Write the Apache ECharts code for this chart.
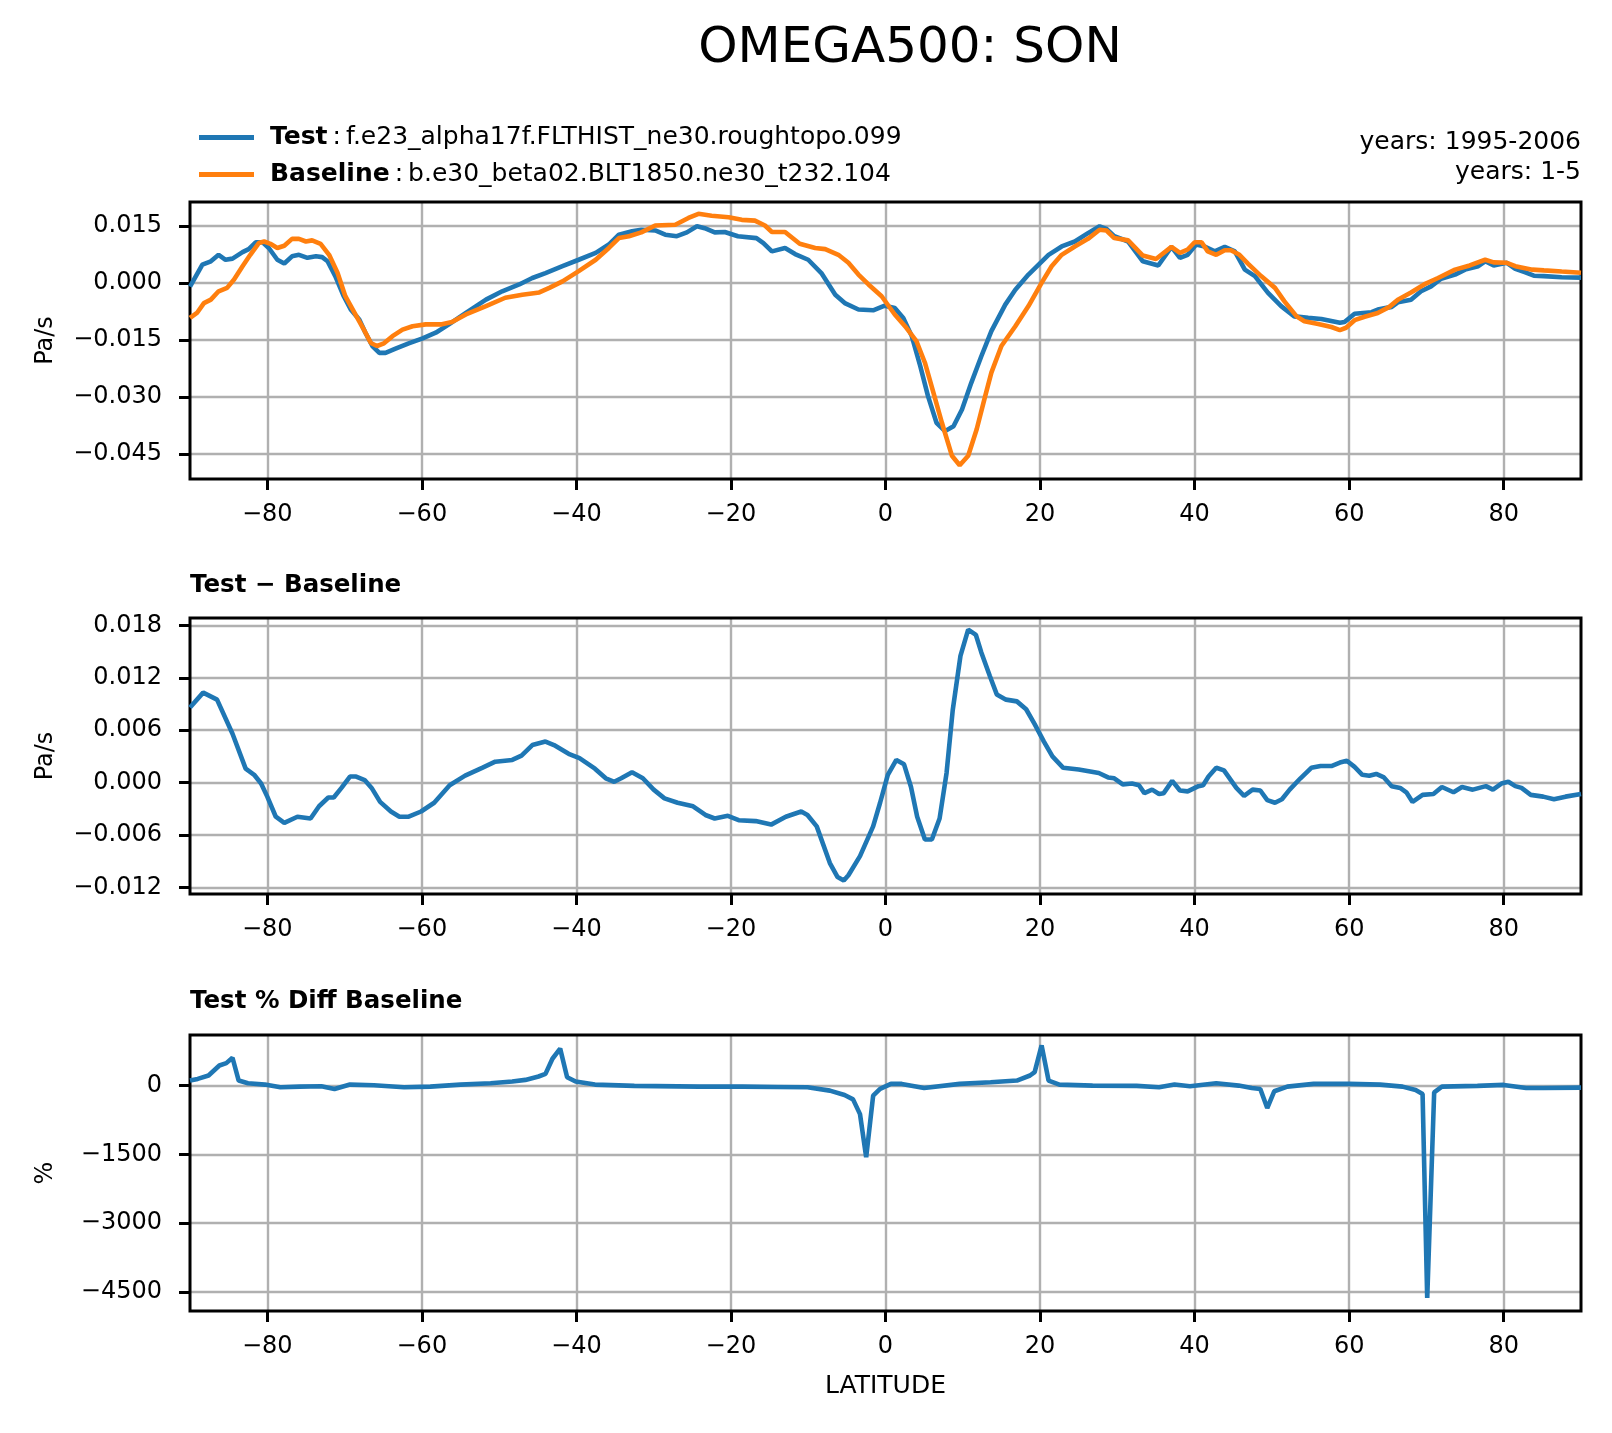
<!DOCTYPE html>
<html>
<head>
<meta charset="utf-8">
<title>OMEGA500: SON</title>
<script src="https://cdn.jsdelivr.net/npm/echarts@6/dist/echarts.min.js"></script>
<style>
  html, body { margin: 0; padding: 0; background: #fff; }
  #main { width: 1612px; height: 1433px; }
</style>
</head>
<body>
<div id="main"></div>
<script>
// tick positions
var latTicks = [-80, -60, -40, -20, 0, 20, 40, 60, 80];
var omegaTicks = [-0.045, -0.030, -0.015, 0.000, 0.015];
var diffTicks = [-0.012, -0.006, 0.000, 0.006, 0.012, 0.018];
var pctTicks = [-4500, -3000, -1500, 0];

// Test (f.e23_alpha17f...) OMEGA500, Pa/s
var testLat = [-90, -88.4, -87.3, -86.3, -85.4, -84.5, -83.2, -82.4, -81.5, -80.6, -79.8, -78.7, -77.8, -76.8, -75.9,
    -74.8, -73.7, -72.9, -72.2, -71.2, -70.1, -69.2, -68.1, -67.3, -66.4, -65.5, -64.7, -63.4, -61.7, -59.9, -58.2,
    -56.5, -54.3, -51.7, -49.6, -47.4, -45.7, -44.0, -41.8, -39.7, -37.5, -35.8, -34.5, -32.8, -31.6, -29.8, -28.5,
    -27.0, -25.7, -24.4, -23.4, -22.1, -20.8, -19.1, -16.7, -15.8, -14.7, -13.0, -11.7, -10.0, -8.3, -6.5, -5.2,
    -3.5, -1.6, -0.1, 1.2, 2.3, 3.4, 4.5, 5.5, 6.6, 7.7, 8.8, 9.9, 11.1, 12.4, 13.7, 15.5, 16.8, 18.5, 21.1, 22.8,
    24.5, 26.2, 27.7, 28.6, 29.6, 31.4, 33.3, 35.3, 37.0, 38.1, 39.1, 40.2, 41.3, 42.6, 43.9, 45.2, 46.5, 47.8,
    49.5, 51.2, 52.9, 54.7, 56.4, 58.8, 59.4, 60.7, 62.9, 63.7, 65.5, 66.3, 68.0, 69.3, 70.6, 71.9, 73.7, 75.0,
    76.7, 77.6, 78.7, 80.4, 81.5, 82.8, 83.9, 85.2, 87.5, 90];
var testOmega = [-0.0010, 0.0048, 0.0057, 0.0074, 0.0061, 0.0064, 0.0081, 0.0089, 0.0107, 0.0107, 0.0092, 0.0061,
    0.0051, 0.0070, 0.0074, 0.0066, 0.0070, 0.0068, 0.0057, 0.0018, -0.0035, -0.0070, -0.0096, -0.0131, -0.0166,
    -0.0184, -0.0184, -0.0173, -0.0159, -0.0146, -0.0131, -0.0109, -0.0079, -0.0044, -0.0022, -0.0004, 0.0013,
    0.0026, 0.0044, 0.0061, 0.0079, 0.0101, 0.0127, 0.0136, 0.0140, 0.0138, 0.0127, 0.0123, 0.0133, 0.0149, 0.0144,
    0.0133, 0.0134, 0.0123, 0.0118, 0.0105, 0.0083, 0.0092, 0.0076, 0.0061, 0.0026, -0.0031, -0.0054, -0.0070,
    -0.0072, -0.0060, -0.0066, -0.0092, -0.0140, -0.0219, -0.0298, -0.0368, -0.0390, -0.0377, -0.0333, -0.0263,
    -0.0193, -0.0127, -0.0057, -0.0018, 0.0022, 0.0074, 0.0096, 0.0109, 0.0131, 0.0149, 0.0142, 0.0123, 0.0109,
    0.0057, 0.0046, 0.0095, 0.0066, 0.0074, 0.0101, 0.0096, 0.0083, 0.0095, 0.0083, 0.0035, 0.0018, -0.0026,
    -0.0061, -0.0088, -0.0092, -0.0095, -0.0105, -0.0103, -0.0081, -0.0077, -0.0070, -0.0063, -0.0051, -0.0044,
    -0.0022, -0.0009, 0.0011, 0.0022, 0.0035, 0.0044, 0.0057, 0.0046, 0.0053, 0.0037, 0.0028, 0.0019, 0.0018,
    0.0015, 0.0014];

// Baseline (b.e30_beta02...) OMEGA500, Pa/s
var baseLat = [-90, -89.1, -88.2, -87.3, -86.3, -85.2, -84.3, -83.2, -82.2, -81.1, -80.4, -79.6, -78.7, -77.8, -76.8,
    -75.9, -75.0, -74.2, -73.1, -72.0, -70.9, -69.9, -68.6, -67.5, -66.6, -65.8, -64.9, -63.8, -62.5, -61.2, -59.5,
    -57.4, -56.1, -54.3, -51.7, -49.2, -47.0, -44.8, -43.5, -41.8, -39.7, -37.5, -35.8, -34.5, -33.2, -31.6, -29.8,
    -27.2, -25.5, -24.2, -22.5, -20.3, -18.6, -16.9, -15.6, -14.7, -13.0, -11.1, -9.1, -7.8, -6.1, -4.8, -3.5,
    -2.2, -0.5, 1.2, 2.7, 4.0, 5.1, 6.2, 7.3, 8.6, 9.6, 10.7, 11.8, 12.9, 13.7, 15.0, 16.8, 18.5, 20.2, 21.5, 22.8,
    24.5, 26.2, 27.7, 28.6, 29.6, 31.4, 33.3, 35.0, 37.0, 38.1, 39.1, 40.0, 40.9, 41.7, 42.8, 43.9, 44.7, 45.8,
    46.9, 48.6, 50.4, 51.6, 53.2, 54.2, 56.0, 57.7, 58.8, 59.6, 60.7, 62.0, 63.7, 65.2, 66.3, 68.0, 69.7, 71.5,
    73.7, 75.6, 77.6, 78.7, 80.4, 81.5, 83.7, 85.2, 87.5, 90];
var baseOmega = [-0.0092, -0.0079, -0.0053, -0.0044, -0.0022, -0.0013, 0.0009, 0.0044, 0.0074, 0.0105, 0.0109,
    0.0103, 0.0092, 0.0098, 0.0116, 0.0116, 0.0109, 0.0112, 0.0103, 0.0074, 0.0026, -0.0035, -0.0083, -0.0123,
    -0.0158, -0.0166, -0.0159, -0.0140, -0.0123, -0.0114, -0.0109, -0.0109, -0.0103, -0.0083, -0.0061, -0.0039,
    -0.0031, -0.0025, -0.0013, 0.0004, 0.0031, 0.0061, 0.0092, 0.0118, 0.0123, 0.0133, 0.0151, 0.0153, 0.0171,
    0.0182, 0.0177, 0.0173, 0.0166, 0.0164, 0.0151, 0.0134, 0.0134, 0.0103, 0.0092, 0.0089, 0.0074, 0.0053, 0.0022,
    -0.0004, -0.0035, -0.0083, -0.0118, -0.0153, -0.0210, -0.0289, -0.0368, -0.0455, -0.0480, -0.0455, -0.0385,
    -0.0298, -0.0236, -0.0166, -0.0114, -0.0061, 0.0000, 0.0044, 0.0074, 0.0096, 0.0116, 0.0140, 0.0138, 0.0118,
    0.0112, 0.0072, 0.0063, 0.0095, 0.0079, 0.0088, 0.0107, 0.0107, 0.0083, 0.0074, 0.0086, 0.0086, 0.0074, 0.0051,
    0.0018, -0.0013, -0.0048, -0.0088, -0.0101, -0.0108, -0.0116, -0.0124, -0.0118, -0.0098, -0.0089, -0.0079,
    -0.0063, -0.0044, -0.0025, -0.0004, 0.0013, 0.0035, 0.0046, 0.0061, 0.0054, 0.0053, 0.0044, 0.0035, 0.0033,
    0.0030, 0.0027];

// Test - Baseline, Pa/s
var diffLat = [-90, -88.3, -86.5, -84.5, -82.8, -81.7, -80.8, -80.0, -78.9, -77.8, -76.1, -74.4, -73.3, -72.1, -71.4,
    -70.4, -69.3, -68.5, -67.4, -66.5, -65.4, -64.0, -62.9, -61.7, -60.1, -58.4, -56.4, -54.4, -52.2, -50.5, -48.3,
    -47.1, -45.7, -44.0, -42.9, -41.0, -39.6, -37.6, -36.2, -35.1, -34.2, -32.8, -31.4, -30.0, -28.6, -26.9, -24.9,
    -23.3, -22.1, -20.4, -19.0, -16.8, -14.8, -12.9, -10.9, -10.1, -8.9, -7.2, -6.2, -5.4, -4.8, -3.3, -1.6, -0.7,
    0.3, 1.4, 2.4, 3.3, 4.1, 5.1, 6.0, 7.0, 7.9, 8.7, 9.7, 10.7, 11.7, 12.4, 13.5, 14.4, 15.6, 17.0, 18.2, 19.3,
    20.5, 21.6, 23.0, 25.0, 27.6, 28.8, 29.6, 30.7, 31.9, 32.8, 33.5, 34.5, 35.4, 36.0, 37.1, 38.1, 39.1, 40.5,
    41.1, 41.8, 42.8, 43.8, 45.4, 46.4, 47.5, 48.5, 49.4, 50.4, 51.3, 52.3, 53.7, 55.1, 56.3, 57.7, 58.8, 59.7,
    60.7, 61.7, 62.6, 63.5, 64.5, 65.5, 66.6, 67.4, 68.2, 69.5, 70.9, 72.0, 73.5, 74.6, 76.0, 77.7, 78.6, 79.7,
    80.6, 81.5, 82.3, 83.5, 85.1, 86.5, 88.0, 90];
var diffOmega = [0.0086, 0.0103, 0.0095, 0.0056, 0.0016, 0.0009, -0.0001, -0.0016, -0.0039, -0.0046, -0.0039,
    -0.0041, -0.0027, -0.0017, -0.0017, -0.0006, 0.0007, 0.0007, 0.0003, -0.0006, -0.0022, -0.0033, -0.0039,
    -0.0039, -0.0033, -0.0023, -0.0003, 0.0008, 0.0017, 0.0024, 0.0026, 0.0031, 0.0043, 0.0047, 0.0043, 0.0033,
    0.0028, 0.0016, 0.0005, 0.0001, 0.0005, 0.0012, 0.0005, -0.0008, -0.0018, -0.0023, -0.0027, -0.0037, -0.0041,
    -0.0038, -0.0043, -0.0044, -0.0048, -0.0039, -0.0033, -0.0037, -0.0050, -0.0092, -0.0108, -0.0112, -0.0106,
    -0.0084, -0.0050, -0.0023, 0.0009, 0.0026, 0.0021, -0.0005, -0.0039, -0.0065, -0.0065, -0.0041, 0.0011,
    0.0083, 0.0145, 0.0175, 0.0169, 0.0149, 0.0122, 0.0101, 0.0095, 0.0093, 0.0084, 0.0067, 0.0047, 0.0030,
    0.0017, 0.0015, 0.0011, 0.0006, 0.0005, -0.0002, -0.0001, -0.0003, -0.0012, -0.0008, -0.0013, -0.0012,
    0.0002, -0.0009, -0.0010, -0.0004, -0.0003, 0.0007, 0.0017, 0.0014, -0.0006, -0.0015, -0.0008, -0.0009,
    -0.0020, -0.0023, -0.0019, -0.0008, 0.0005, 0.0017, 0.0019, 0.0019, 0.0023, 0.0025, 0.0018, 0.0009, 0.0008,
    0.0010, 0.0006, -0.0004, -0.0006, -0.0011, -0.0022, -0.0014, -0.0013, -0.0005, -0.0011, -0.0005, -0.0008,
    -0.0004, -0.0008, -0.0001, 0.0001, -0.0004, -0.0006, -0.0014, -0.0016, -0.0019, -0.0016, -0.0013];

// Test % Diff Baseline
var pctLat = [-90, -89.0, -87.6, -86.2, -85.3, -84.5, -83.7, -82.5, -80.3, -78.3, -75.8, -73.0, -71.3, -69.3, -66.2,
    -62.3, -58.9, -55.0, -51.1, -48.3, -46.6, -44.9, -44.0, -43.1, -42.1, -41.2, -40.1, -37.6, -32.5, -24.1, -18.5,
    -14.0, -10.1, -7.2, -5.3, -4.2, -3.3, -2.5, -1.6, -0.7, 0.7, 2.1, 5.0, 9.6, 13.6, 17.0, 18.7, 19.3, 20.2, 21.1,
    22.5, 26.8, 32.5, 35.4, 37.4, 39.4, 42.8, 45.7, 47.4, 48.5, 49.4, 50.3, 52.0, 55.4, 60.0, 64.0, 66.9, 68.6,
    69.5, 70.1, 71.0, 72.0, 76.6, 80.0, 82.9, 85.1, 90];
var pctDiff = [110, 146, 220, 439, 490, 607, 110, 51, 22, -37, -22, -15, -73, 22, 7, -37, -22, 22, 51, 88, 124, 198,
    256, 585, 805, 183, 88, 22, -7, -22, -22, -29, -37, -110, -205, -300, -622, -1560, -220, -73, 37, 37, -51, 37,
    73, 110, 220, 293, 878, 110, 22, 0, -7, -37, 22, -15, 51, 0, -51, -73, -490, -124, -22, 37, 37, 22, -22, -95,
    -183, -4630, -146, -22, -7, 15, -51, -51, -45];

var FONT = 'DejaVu Sans';
var BLUE = '#1f77b4';
var ORANGE = '#ff7f0e';

function zip(xs, ys) {
    return xs.map(function (x, i) { return [x, ys[i]]; });
}

function minusSign(s) {
    return String(s).replace('-', '\u2212');
}

function xAxisFor(idx, name) {
    return {
        type: 'value',
        gridIndex: idx,
        position: 'bottom',
        min: -90,
        max: 90,
        name: name || '',
        nameLocation: 'middle',
        nameGap: 63,
        nameTextStyle: { fontFamily: FONT, fontSize: 25, color: '#000' },
        axisLine: { show: false, onZero: false },
        axisTick: { show: true, inside: false, length: 11, customValues: latTicks, lineStyle: { color: '#000', width: 3 } },
        axisLabel: {
            customValues: latTicks, margin: 24, color: '#000', fontFamily: FONT, fontSize: 24,
            formatter: function (v) { return minusSign(v); }
        },
        splitLine: { show: true, lineStyle: { color: '#b0b0b0', width: 2.4 } }
    };
}

function yAxisFor(idx, name, lo, hi, ticks, digits) {
    return {
        type: 'value',
        gridIndex: idx,
        position: 'left',
        min: lo,
        max: hi,
        name: name,
        nameLocation: 'middle',
        nameRotate: 90,
        nameGap: 132,
        nameTextStyle: { fontFamily: FONT, fontSize: 24, color: '#000' },
        axisLine: { show: false, onZero: false },
        axisTick: { show: true, inside: false, length: 11, customValues: ticks, lineStyle: { color: '#000', width: 3 } },
        axisLabel: {
            customValues: ticks, margin: 28, color: '#000', fontFamily: FONT, fontSize: 24,
            formatter: function (v) { return minusSign(v.toFixed(digits)); }
        },
        splitLine: { show: true, lineStyle: { color: '#b0b0b0', width: 2.4 } }
    };
}

function lineSeries(name, idx, data, color, z) {
    return {
        name: name,
        type: 'line',
        xAxisIndex: idx,
        yAxisIndex: idx,
        data: data,
        showSymbol: false,
        symbol: 'none',
        z: z,
        lineStyle: { color: color, width: 4.6 },
        itemStyle: { color: color }
    };
}

var chart = echarts.init(document.getElementById('main'), null, { renderer: 'canvas' });

var option = {
    animation: false,
    backgroundColor: '#fff',
    textStyle: { fontFamily: FONT },
    grid: [
        { left: 190, top: 202, width: 1391, height: 277, show: true, borderColor: '#000', borderWidth: 3, backgroundColor: 'transparent', z: 3 },
        { left: 190, top: 618, width: 1391, height: 276, show: true, borderColor: '#000', borderWidth: 3, backgroundColor: 'transparent', z: 3 },
        { left: 190, top: 1035, width: 1391, height: 276, show: true, borderColor: '#000', borderWidth: 3, backgroundColor: 'transparent', z: 3 }
    ],
    xAxis: [xAxisFor(0), xAxisFor(1), xAxisFor(2, 'LATITUDE')],
    yAxis: [
        yAxisFor(0, 'Pa/s', -0.0516, 0.0213, omegaTicks, 3),
        yAxisFor(1, 'Pa/s', -0.01274, 0.01884, diffTicks, 3),
        yAxisFor(2, '%', -4914, 1103, pctTicks, 0)
    ],
    legend: {
        data: ['Test', 'Baseline'],
        orient: 'vertical',
        left: 194,
        top: 120,
        itemWidth: 55,
        itemHeight: 5,
        itemGap: 12,
        icon: 'rect',
        selectedMode: false,
        textStyle: {
            fontFamily: FONT, fontSize: 25, color: '#000',
            rich: {
                b: { fontFamily: FONT, fontSize: 25, fontWeight: 'bold', color: '#000', padding: [0, 0, 0, 11] }
            }
        },
        formatter: function (name) {
            if (name === 'Test') {
                return '{b|Test}\u2009:\u2009f.e23_alpha17f.FLTHIST_ne30.roughtopo.099';
            }
            return '{b|Baseline}\u2009:\u2009b.e30_beta02.BLT1850.ne30_t232.104';
        }
    },
    graphic: [
        { type: 'text', x: 910, y: 49, style: { text: 'OMEGA500: SON', fill: '#000', fontFamily: FONT, fontSize: 50, align: 'center', verticalAlign: 'middle' } },
        { type: 'text', x: 1581, y: 142, style: { text: 'years: 1995-2006', fill: '#000', fontFamily: FONT, fontSize: 25, align: 'right', verticalAlign: 'middle' } },
        { type: 'text', x: 1581, y: 172, style: { text: 'years: 1-5', fill: '#000', fontFamily: FONT, fontSize: 25, align: 'right', verticalAlign: 'middle' } },
        { type: 'text', x: 190, y: 586, style: { text: 'Test \u2212 Baseline', fill: '#000', fontFamily: FONT, fontSize: 24.5, fontWeight: 'bold', align: 'left', verticalAlign: 'middle' } },
        { type: 'text', x: 190, y: 1002, style: { text: 'Test % Diff Baseline', fill: '#000', fontFamily: FONT, fontSize: 24.5, fontWeight: 'bold', align: 'left', verticalAlign: 'middle' } }
    ],
    series: [
        lineSeries('Test', 0, zip(testLat, testOmega), BLUE, 5),
        lineSeries('Baseline', 0, zip(baseLat, baseOmega), ORANGE, 6),
        lineSeries('Test \u2212 Baseline', 1, zip(diffLat, diffOmega), BLUE, 5),
        lineSeries('Test % Diff Baseline', 2, zip(pctLat, pctDiff), BLUE, 5)
    ]
};

chart.setOption(option);
</script>
</body>
</html>
